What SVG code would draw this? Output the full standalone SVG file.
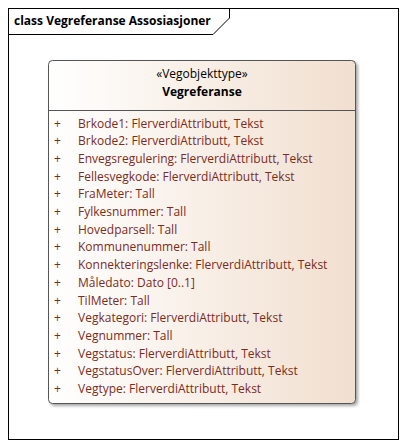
<svg xmlns="http://www.w3.org/2000/svg" width="407" height="448" viewBox="0 0 407 448">
<defs>
<linearGradient id="g" x1="0" y1="0" x2="1" y2="0">
<stop offset="0" stop-color="#ffffff"/>
<stop offset="1" stop-color="#f1dfcf"/>
</linearGradient>
<filter id="sh" x="-10%" y="-10%" width="120%" height="120%">
<feGaussianBlur in="SourceAlpha" stdDeviation="1.5"/>
<feOffset dx="2" dy="2"/>
<feComponentTransfer><feFuncA type="linear" slope="0.35"/></feComponentTransfer>
<feMerge><feMergeNode/><feMergeNode in="SourceGraphic"/></feMerge>
</filter>
</defs>
<style>
text{font-family:"Open Sans","Liberation Sans",sans-serif;font-size:12px}
.t{fill:#000}
.b{font-weight:bold}
.a{fill:#7b2c1c}
</style>
<rect width="407" height="448" fill="#fff"/>
<g id="frame">
<rect x="8.5" y="8.5" width="390" height="431" fill="none" stroke="#000" stroke-width="1"/>
<path d="M8.5 34.5 H213 L229.5 18 V8.5" fill="none" stroke="#000"/>
<text class="t b" x="14" y="25">class Vegreferanse Assosiasjoner</text>
</g>
<g id="Vegreferanse">
<rect x="48.5" y="60.5" width="307" height="343" rx="4" fill="url(#g)" stroke="#555" filter="url(#sh)"/>
<line x1="48.5" y1="110.5" x2="355.5" y2="110.5" stroke="#555"/>
<text class="t" x="202" y="78" text-anchor="middle">«Vegobjekttype»</text>
<text class="t b" x="202" y="96" text-anchor="middle">Vegreferanse</text>
<g class="a">
<text x="54" y="127.5">+</text><text x="78" y="127.5">Brkode1: FlerverdiAttributt, Tekst</text>
<text x="54" y="145.2">+</text><text x="78" y="145.2">Brkode2: FlerverdiAttributt, Tekst</text>
<text x="54" y="162.9">+</text><text x="78" y="162.9">Envegsregulering: FlerverdiAttributt, Tekst</text>
<text x="54" y="180.6">+</text><text x="78" y="180.6">Fellesvegkode: FlerverdiAttributt, Tekst</text>
<text x="54" y="198.3">+</text><text x="78" y="198.3">FraMeter: Tall</text>
<text x="54" y="216">+</text><text x="78" y="216">Fylkesnummer: Tall</text>
<text x="54" y="233.7">+</text><text x="78" y="233.7">Hovedparsell: Tall</text>
<text x="54" y="251.4">+</text><text x="78" y="251.4">Kommunenummer: Tall</text>
<text x="54" y="269.1">+</text><text x="78" y="269.1">Konnekteringslenke: FlerverdiAttributt, Tekst</text>
<text x="54" y="286.8">+</text><text x="78" y="286.8">Måledato: Dato [0..1]</text>
<text x="54" y="304.5">+</text><text x="78" y="304.5">TilMeter: Tall</text>
<text x="54" y="322.2">+</text><text x="78" y="322.2">Vegkategori: FlerverdiAttributt, Tekst</text>
<text x="54" y="339.9">+</text><text x="78" y="339.9">Vegnummer: Tall</text>
<text x="54" y="357.6">+</text><text x="78" y="357.6">Vegstatus: FlerverdiAttributt, Tekst</text>
<text x="54" y="375.3">+</text><text x="78" y="375.3">VegstatusOver: FlerverdiAttributt, Tekst</text>
<text x="54" y="393">+</text><text x="78" y="393">Vegtype: FlerverdiAttributt, Tekst</text>
</g>
</g>
</svg>
